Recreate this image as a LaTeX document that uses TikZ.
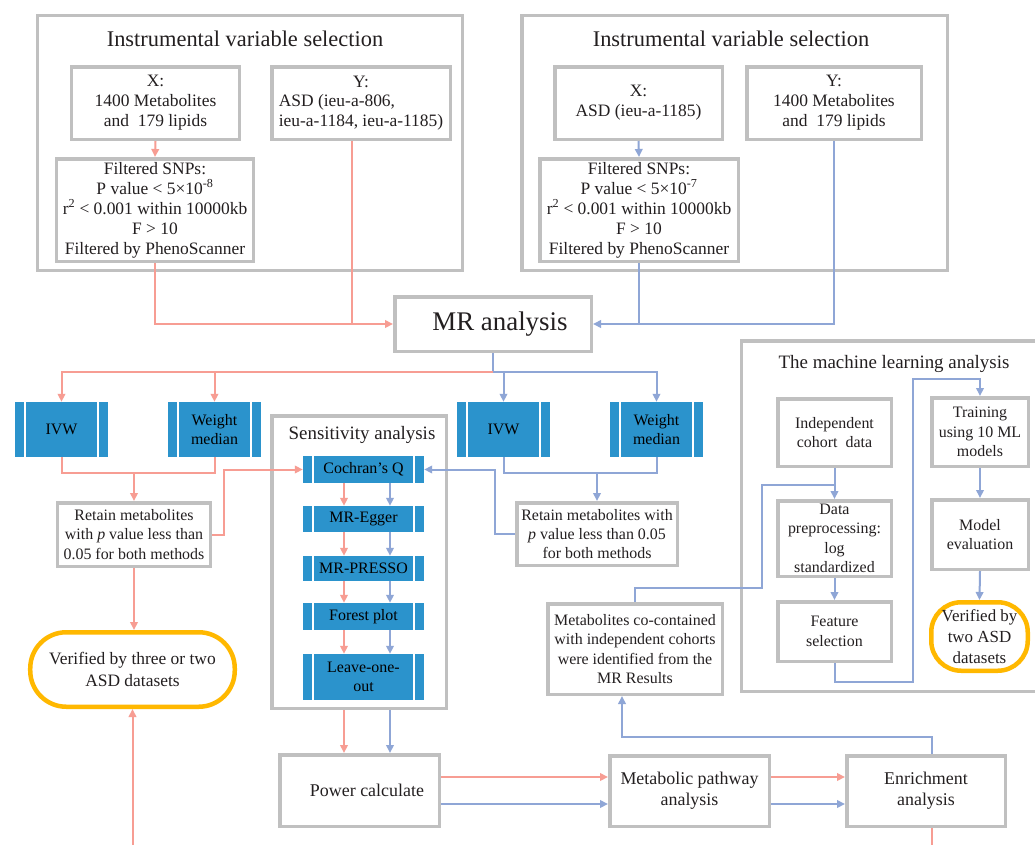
\documentclass[tikz,border=0pt]{standalone}
\usepackage{fontspec}
\setmainfont{Liberation Serif}
\usetikzlibrary{arrows.meta}
\definecolor{boxgray}{RGB}{192,192,192}
\definecolor{redc}{RGB}{247,157,147}
\definecolor{bluec}{RGB}{143,166,214}
\definecolor{procblue}{RGB}{43,147,204}
\definecolor{orangec}{RGB}{255,184,0}
\definecolor{txt}{RGB}{35,31,32}
\begin{document}
\begin{tikzpicture}[x=1bp, y=-1bp,
  gbox/.style={draw=boxgray, line width=3.5bp, fill=white, inner sep=0pt, align=center, text=txt},
  proc/.style={fill=procblue, draw=none, inner sep=0pt, align=center, text=black,
    path picture={
      \draw[white, line width=2.2bp] ([xshift=10bp]path picture bounding box.south west) -- ([xshift=10bp]path picture bounding box.north west);
      \draw[white, line width=2.2bp] ([xshift=-10bp]path picture bounding box.south east) -- ([xshift=-10bp]path picture bounding box.north east);}},
  vbox/.style={draw=orangec, line width=4.5bp, fill=white, inner sep=0pt, align=center, text=txt},
  bx/.style 2 args={minimum width=#1bp, minimum height=#2bp},
  tA/.style={font=\fontsize{17.5}{20}\selectfont},
  tB/.style={font=\fontsize{16}{19.5}\selectfont},
  tC/.style={font=\fontsize{18}{21}\selectfont},
  ttl/.style={font=\fontsize{22.5}{26}\selectfont, text=txt, inner sep=0pt},
  ttls/.style={font=\fontsize{19}{23}\selectfont, text=txt, inner sep=0pt},
  rl/.style={draw=redc, line width=2bp},
  bl/.style={draw=bluec, line width=2bp},
  ra/.style={rl, -{Triangle[length=8bp,width=7.5bp]}},
  ba/.style={bl, -{Triangle[length=8bp,width=7.5bp]}}]
\useasboundingbox (0,0) rectangle (1035,845);
\fill[white] (0,0) rectangle (1035,845);

% outer groups
\node[gbox, bx={424.5}{254.5}] (ivl) at (250,143) {};
\node[ttl, anchor=base] (ivlt) at (245,46) {Instrumental variable selection};
\node[gbox, bx={425.5}{254.5}] (ivr) at (734.5,143) {};
\node[ttl, anchor=base] (ivrt) at (731,46) {Instrumental variable selection};
\node[gbox, bx={174.5}{292.5}] (sens) at (359,562) {};
\node[ttls, anchor=base] (senst) at (362,439) {Sensitivity analysis};
\node[gbox, bx={305}{350.5}] (ml) at (894,516) {};
\node[ttls, anchor=base] (mlt) at (894,368) {The machine learning analysis};

% top left
\node[gbox, tA, bx={167.5}{72.5}] (xl) at (155.5,103) {X:\\1400 Metabolites\\and\ \ 179 lipids};
\node[gbox, tA, bx={178.5}{72.5}] (yl) at (361,103) {\begin{tabular}{@{}l@{}}\multicolumn{1}{@{}c@{}}{Y:}\\ASD (ieu-a-806,\\ieu-a-1184, ieu-a-1185)\end{tabular}};
\node[gbox, tA, bx={196.5}{102.5}] (fl) at (155,210) {Filtered SNPs:\\P value < 5×10\textsuperscript{-8}\\r\textsuperscript{2} < 0.001 within 10000kb\\F > 10\\Filtered by PhenoScanner};
% top right
\node[gbox, tA, bx={167.5}{72.5}] (xr) at (638.5,103) {X:\\ASD (ieu-a-1185)};
\node[gbox, tA, bx={174.5}{72.5}] (yr) at (834,103) {Y:\\1400 Metabolites\\and\ \ 179 lipids};
\node[gbox, tA, bx={198.5}{102.5}] (fr) at (639,210) {Filtered SNPs:\\P value < 5×10\textsuperscript{-7}\\r\textsuperscript{2} < 0.001 within 10000kb\\F > 10\\Filtered by PhenoScanner};

% MR
\node[gbox, font=\fontsize{27}{31}\selectfont, bx={196.5}{54.5}] (mr) at (493,324) {\hspace*{14bp}MR analysis};

% methods
\node[proc, tB, bx={93}{55}] (ivwl) at (61.5,429.5) {IVW};
\node[proc, tB, bx={93}{55}] (wml) at (214.5,429.5) {Weight\\median};
\node[proc, tB, bx={93}{55}] (ivwr) at (503.5,429.5) {IVW};
\node[proc, tB, bx={93}{55}] (wmr) at (656.5,429.5) {Weight\\median};

\node[gbox, tB, bx={152.5}{63.5}] (retl) at (134,534.5) {Retain metabolites\\with \textit{p} value less than\\0.05 for both methods};
\node[gbox, tB, bx={160.5}{62.5}] (retr) at (597,534) {Retain metabolites with\\\textit{p} value less than 0.05\\for both methods};

% sensitivity chain
\node[proc, tB, bx={121}{27}] (coch) at (363.5,469.5) {Cochran’s Q};
\node[proc, tB, bx={121}{26}] (egg) at (363.5,519) {MR-Egger};
\node[proc, tB, bx={121}{25}] (pres) at (363.5,568.5) {MR-PRESSO};
\node[proc, tB, bx={121}{27}] (forest) at (363.5,616.5) {Forest plot};
\node[proc, tB, bx={121}{46}] (loo) at (363.5,677) {Leave-one-\\out};

\node[vbox, font=\fontsize{17.5}{21.5}\selectfont, bx={204.5}{74.5}, rounded corners=36bp] (verl) at (132.5,669.5) {Verified by three or two\\ASD datasets};

% bottom row
\node[gbox, tC, bx={159.5}{71.5}] (pow) at (359.5,790.5) {\hspace*{15bp}Power calculate};
\node[gbox, tC, bx={159.5}{70.5}] (met) at (689.5,791) {Metabolic pathway\\analysis};
\node[gbox, tC, bx={158.5}{70.5}] (enr) at (926,791) {Enrichment\\analysis};
\node[gbox, tB, bx={174.5}{90.5}] (metco) at (635,649) {Metabolites co-contained\\with independent cohorts\\were identified from the\\MR Results};

% ML boxes
\node[gbox, tB, bx={113.5}{67.5}] (ind) at (834.5,432.5) {Independent\\cohort\ \ data};
\node[gbox, tB, bx={113.5}{75.5}] (dp) at (834.5,538.5) {Data\\preprocessing:\\log\\standardized};
\node[gbox, tB, bx={113.5}{59.5}] (fs) at (834.5,631.5) {Feature\\selection};
\node[gbox, tB, bx={96.5}{68.5}] (train) at (980,432) {Training\\using 10 ML\\models};
\node[gbox, tB, bx={96.5}{69.5}] (me) at (980,534.5) {Model\\evaluation};
\node[vbox, font=\fontsize{17}{21}\selectfont, bx={96.5}{68.5}, rounded corners=30bp] (verr) at (979.5,636.5) {Verified by\\two ASD\\datasets};

% connectors top
\coordinate (jy) at (352,324);
\draw[ra] (xl.south) -- (fl.north);
\draw[ra] (fl.south) |- (mr.west);
\draw[rl] (yl.south -| jy) -- (jy);
\draw[ba] (xr.south) -- (fr.north);
\draw[ba] (yr.south) |- (mr.east);
\draw[bl] (fr.south) -- (fr.south |- mr.east);

% MR split
\coordinate (jm) at (493,372);
\draw[bl] (mr.south) -- (jm);
\draw[ra] (jm) -| (ivwl.north);
\draw[ra] (wml.north |- jm) -- (wml.north);
\draw[ba] (jm) -| (wmr.north);
\draw[ba] (ivwr.north |- jm) -- (ivwr.north);

% merges
\coordinate (jl) at (134,473);
\draw[rl] (ivwl.south) |- (jl) -| (wml.south);
\draw[ra] (jl) -- (retl.north);
\coordinate (jr) at (597,473);
\draw[bl] (ivwr.south) |- (jr) -| (wmr.south);
\draw[ba] (jr) -- (retr.north);
\draw[ra] (retl.east) -- ++(12,0) |- (coch.west);
\draw[ba] (retr.west) -- ++(-20,0) |- (coch.east);

% sensitivity
\coordinate (rx) at (344,0);
\coordinate (bxx) at (390,0);
\foreach \a/\b in {coch/egg, egg/pres, pres/forest, forest/loo} {
  \draw[ra] (\a.south -| rx) -- (\b.north -| rx);
  \draw[ba] (\a.south -| bxx) -- (\b.north -| bxx);
}
\draw[ra] (sens.south -| rx) -- (pow.north -| rx);
\draw[ba] (sens.south -| bxx) -- (pow.north -| bxx);
\draw[ra] (retl.south) -- (retl.south |- verl.north);
\coordinate (rin) at (132.5,850);
\draw[ra] (rin) -- (verl.south);

% bottom row
\coordinate (ry) at (0,777);
\coordinate (by) at (0,804);
\draw[ra] (pow.east |- ry) -- (met.west |- ry);
\draw[ba] (pow.east |- by) -- (met.west |- by);
\draw[ra] (met.east |- ry) -- (enr.west |- ry);
\draw[ba] (met.east |- by) -- (enr.west |- by);
\coordinate (ex) at (932,737);
\coordinate (mx) at (622,737);
\draw[ba] (enr.north -| ex) -- (ex) -- (mx) -- (metco.south -| mx);
\coordinate (rout) at (932,850);
\draw[rl] (enr.south -| ex) -- (rout);

% ML
\coordinate (c1) at (762,588);
\coordinate (c2) at (834.5,485);
\draw[bl] (metco.north) |- (c1) |- (c2);
\draw[ba] (ind.south) -- (dp.north);
\draw[ba] (dp.south) -- (fs.north);
\coordinate (c3) at (913,682);
\coordinate (c4) at (913,379);
\draw[ba] (fs.south) |- (c3) -- (c4) -| (train.north);
\draw[ba] (train.south) -- (me.north);
\draw[ba] (me.south) -- (verr.north);
\end{tikzpicture}
\end{document}
